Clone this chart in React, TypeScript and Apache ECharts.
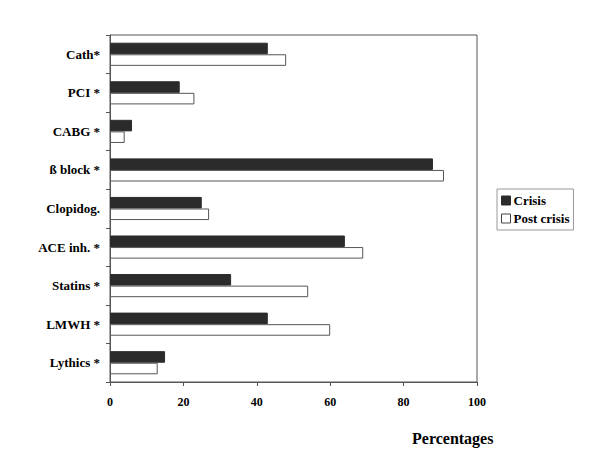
import React, { useEffect, useRef } from "react";
import * as echarts from "echarts";

const categories = ["Cath*", "PCI *", "CABG *", "ß block *", "Clopidog.", "ACE inh. *", "Statins *", "LMWH *", "Lythics *"];
const crisis = [43, 19, 6, 88, 25, 64, 33, 43, 15];
const postCrisis = [48, 23, 4, 91, 27, 69, 54, 60, 13];
const seriesNames = ["Crisis", "Post crisis"];
const xTicks = [0, 20, 40, 60, 80, 100];
const xTitle = "Percentages";

const FONT = "'Liberation Serif', 'Times New Roman', serif";

export default function App() {
  const ref = useRef<HTMLDivElement>(null);
  useEffect(() => {
    if (!ref.current) return;
    const chart = echarts.init(ref.current, null, { renderer: "svg" });
    chart.setOption({
      animation: false,
      backgroundColor: "#fff",
      textStyle: { fontFamily: FONT },
      grid: {
        left: 110,
        right: 123,
        top: 35,
        bottom: 68,
        show: true,
        borderColor: "#555",
        borderWidth: 1,
      },
      legend: {
        orient: "vertical",
        left: 497,
        top: 189,
        width: 82,
        padding: [5, 4, 5, 4],
        itemGap: 5,
        itemWidth: 9,
        itemHeight: 9,
        borderColor: "#999",
        borderWidth: 1,
        icon: "rect",
        textStyle: { fontFamily: FONT, fontWeight: "bold", fontSize: 13, color: "#000", padding: [0, 0, 0, -2] },
        data: [
          { name: seriesNames[0], itemStyle: { color: "#2b2b2b", borderColor: "#2b2b2b", borderWidth: 1 } },
          { name: seriesNames[1], itemStyle: { color: "#fff", borderColor: "#444", borderWidth: 1 } },
        ],
      },
      xAxis: {
        type: "value",
        min: xTicks[0],
        max: xTicks[xTicks.length - 1],
        interval: xTicks[1] - xTicks[0],
        axisLine: { show: true, lineStyle: { color: "#555", width: 1 } },
        axisTick: { show: true, length: 4, lineStyle: { color: "#555" } },
        splitLine: { show: false },
        axisLabel: {
          margin: 14,
          fontFamily: FONT,
          fontWeight: "bold",
          fontSize: 12,
          color: "#000",
        },
      },
      yAxis: {
        type: "category",
        inverse: true,
        data: categories,
        axisLine: { show: true, lineStyle: { color: "#555", width: 1 } },
        axisTick: { show: true, length: 4, alignWithLabel: false, lineStyle: { color: "#555" } },
        axisLabel: {
          margin: 10,
          fontFamily: FONT,
          fontWeight: "bold",
          fontSize: 13,
          color: "#000",
        },
      },
      graphic: [
        {
          type: "text",
          left: 412,
          top: 430,
          style: {
            text: xTitle,
            font: `bold 16px ${FONT}`,
            fill: "#000",
          },
        },
      ],
      series: [
        {
          name: seriesNames[0],
          type: "bar",
          data: crisis,
          barGap: "0%",
          barCategoryGap: "40%",
          itemStyle: { color: "#2b2b2b", borderColor: "#2b2b2b", borderWidth: 1 },
        },
        {
          name: seriesNames[1],
          type: "bar",
          data: postCrisis,
          barGap: "0%",
          barCategoryGap: "40%",
          itemStyle: { color: "#fff", borderColor: "#555", borderWidth: 1 },
        },
      ],
    });
    return () => chart.dispose();
  }, []);
  return <div ref={ref} style={{ width: 600, height: 450, position: "absolute", left: 0, top: 0 }} />;
}
